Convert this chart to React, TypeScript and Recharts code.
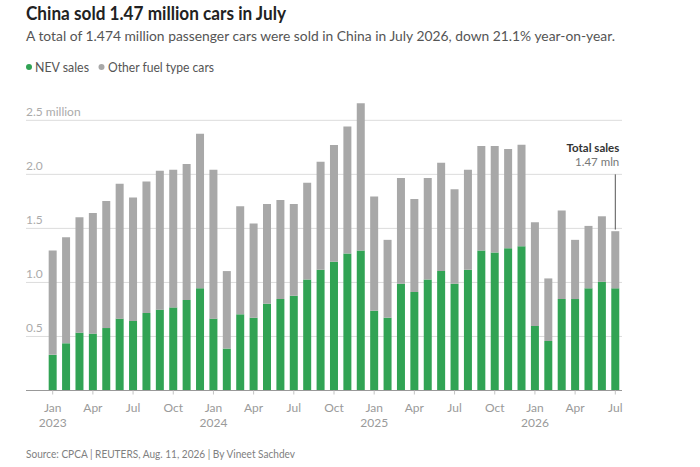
import React from 'react';
import { BarChart, Bar, XAxis, YAxis, CartesianGrid, ReferenceLine } from 'recharts';

// Monthly passenger car sales in China, millions
const months = [
    '2023-01', '2023-02', '2023-03', '2023-04', '2023-05', '2023-06', '2023-07', '2023-08', '2023-09', '2023-10', '2023-11', '2023-12',
    '2024-01', '2024-02', '2024-03', '2024-04', '2024-05', '2024-06', '2024-07', '2024-08', '2024-09', '2024-10', '2024-11', '2024-12',
    '2025-01', '2025-02', '2025-03', '2025-04', '2025-05', '2025-06', '2025-07', '2025-08', '2025-09', '2025-10', '2025-11', '2025-12',
    '2026-01', '2026-02', '2026-03', '2026-04', '2026-05', '2026-06', '2026-07',
];

const nevSales = [
    0.33, 0.437, 0.535, 0.526, 0.578, 0.665, 0.643, 0.717, 0.748, 0.769, 0.837, 0.945,
    0.665, 0.388, 0.705, 0.674, 0.803, 0.846, 0.877, 1.028, 1.117, 1.191, 1.268, 1.295,
    0.738, 0.674, 0.988, 0.911, 1.028, 1.105, 0.988, 1.117, 1.295, 1.277, 1.317, 1.335,
    0.597, 0.458, 0.846, 0.846, 0.945, 1.006, 0.945,
];

const otherSales = [
    0.965, 0.981, 1.068, 1.117, 1.176, 1.249, 1.142, 1.218, 1.286, 1.274, 1.258, 1.43,
    1.378, 0.717, 1.0, 0.871, 0.923, 0.917, 0.849, 0.895, 1.0, 1.08, 1.175, 1.363,
    1.056, 0.72, 0.978, 0.861, 0.938, 1.003, 0.874, 0.926, 0.967, 0.985, 0.917, 0.939,
    0.96, 0.579, 0.819, 0.548, 0.578, 0.606, 0.529,
];

const yTicks = [0.5, 1.0, 1.5, 2.0, 2.5];
const monthNames = ['Jan', 'Feb', 'Mar', 'Apr', 'May', 'Jun', 'Jul', 'Aug', 'Sep', 'Oct', 'Nov', 'Dec'];

const latestMonth = '2026-07';
const latestTotal = 1.474;

const GREEN = '#31a354';
const GREY = '#a8a8a8';
const FONT = 'Lato, "Noto Sans", sans-serif';

const chartData = months.map((month, i) => ({
    month,
    nev: nevSales[i],
    other: otherSales[i],
}));

const MonthTick = (props: any) => {
    const { x, y, payload } = props;
    const [year, mm] = String(payload.value).split('-');
    const idx = Number(mm) - 1;
    return (
        <g>
            <text x={x} y={y + 15} textAnchor="middle" fontSize={12} fill="#9a9a9a" fontFamily={FONT}>
                {monthNames[idx]}
            </text>
            {idx === 0 && (
                <text x={x} y={y + 30} textAnchor="middle" fontSize={12} fill="#9a9a9a" fontFamily={FONT}>
                    {year}
                </text>
            )}
        </g>
    );
};

const ValueTick = (props: any) => {
    const { y, payload } = props;
    const label = payload.value === 2.5 ? '2.5 million' : Number(payload.value).toFixed(1);
    return (
        <text x={26} y={y - 4} textAnchor="start" fontSize={12} fill="#ababab" fontFamily={FONT}>
            {label}
        </text>
    );
};

const renderTotalLabel = (props: any) => {
    const { viewBox } = props;
    if (!viewBox) return null;
    const x = viewBox.x + 4;
    const y = viewBox.y;
    return (
        <g>
            <text x={x} y={y - 22} textAnchor="end" fontSize={11.5} fontWeight={700} fill="#333" fontFamily={FONT}>
                Total sales
            </text>
            <text x={x} y={y - 8} textAnchor="end" fontSize={11.5} fill="#777" fontFamily={FONT}>
                {`${latestTotal.toFixed(2)} mln`}
            </text>
        </g>
    );
};

const App: React.FC = () => {
    return (
        <div style={{ position: 'absolute', left: 0, top: 0, width: 700, height: 467, background: '#fff' }}>
            {/* Headline, subtitle, legend and source */}
            <svg width={700} height={467} style={{ position: 'absolute', left: 0, top: 0, pointerEvents: 'none' }}>
                <text x={26} y={20} fontSize={18} fontWeight={700} fill="#222" fontFamily={FONT} textLength={260} lengthAdjust="spacingAndGlyphs">
                    China sold 1.47 million cars in July
                </text>
                <text x={26} y={40.7} fontSize={14} fill="#555" fontFamily={FONT} textLength={589} lengthAdjust="spacingAndGlyphs">
                    A total of 1.474 million passenger cars were sold in China in July 2026, down 21.1% year-on-year.
                </text>
                <circle cx={29} cy={67} r={3} fill={GREEN} />
                <text x={35} y={71.5} fontSize={12.5} fill="#555" fontFamily={FONT} textLength={54} lengthAdjust="spacingAndGlyphs">
                    NEV sales
                </text>
                <circle cx={101.5} cy={67} r={3} fill={GREY} />
                <text x={108} y={71.5} fontSize={12.5} fill="#555" fontFamily={FONT} textLength={106} lengthAdjust="spacingAndGlyphs">
                    Other fuel type cars
                </text>
                <text x={26} y={458.3} fontSize={11.5} fill="#808080" fontFamily={FONT} textLength={269} lengthAdjust="spacingAndGlyphs">
                    Source: CPCA | REUTERS, Aug. 11, 2026 | By Vineet Sachdev
                </text>
            </svg>

            <BarChart
                width={700}
                height={467}
                data={chartData}
                barCategoryGap="20%"
                margin={{ top: 98.7, right: 78, bottom: 36.5, left: 25 }}
                style={{ position: 'absolute', left: 0, top: 0 }}
            >
                <CartesianGrid vertical={false} stroke="#dcdcdc" horizontalValues={yTicks} />
                <XAxis
                    dataKey="month"
                    interval={2}
                    height={40}
                    padding={{ left: 20, right: 0 }}
                    axisLine={{ stroke: '#999' }}
                    tickLine={{ stroke: '#c4c4c4' }}
                    tickSize={4}
                    tick={<MonthTick />}
                />
                <YAxis
                    width={1}
                    domain={[0, 2.7]}
                    ticks={yTicks}
                    interval={0}
                    axisLine={false}
                    tickLine={false}
                    tick={<ValueTick />}
                />
                <Bar dataKey="nev" stackId="sales" fill={GREEN} isAnimationActive={false} />
                <Bar dataKey="other" stackId="sales" fill={GREY} isAnimationActive={false} />
                <ReferenceLine
                    segment={[
                        { x: latestMonth, y: 2.0 },
                        { x: latestMonth, y: latestTotal + 0.015 },
                    ]}
                    stroke="#555"
                    ifOverflow="visible"
                    label={renderTotalLabel}
                />
            </BarChart>
        </div>
    );
};

export default App;
